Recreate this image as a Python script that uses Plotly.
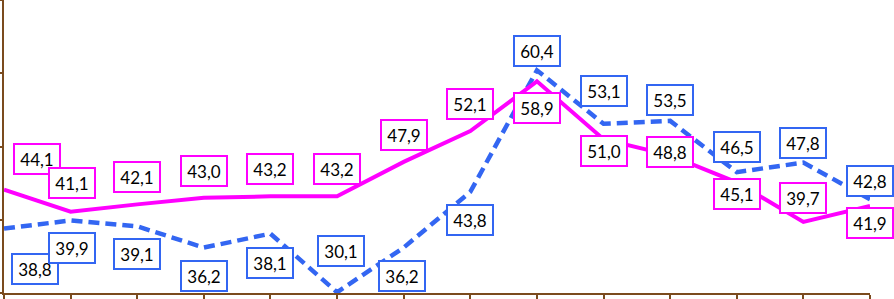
import plotly.graph_objects as go

categories = ["P01", "P02", "P03", "P04", "P05", "P06", "P07",
              "P08", "P09", "P10", "P11", "P12", "P13", "P14"]
series_magenta = [44.1, 41.1, 42.1, 43.0, 43.2, 43.2, 47.9, 52.1, 58.9, 51.0, 48.8, 45.1, 39.7, 41.9]
series_blue = [38.8, 39.9, 39.1, 36.2, 38.1, 30.1, 36.2, 43.8, 60.4, 53.1, 53.5, 46.5, 47.8, 42.8]

# label offsets (pixels) relative to the data point
off_magenta = [(33, -31), (1, -29), (0, -27), (0, -27), (0, -27), (0, -27), (0, -27),
               (0, -27), (0, 27), (0, 12), (0, -3), (0, 12), (0, -24), (0, 17)]
off_blue = [(31, 40), (1, 28), (0, 28), (0, 28), (0, 29), (4, -41), (-2, 28),
            (0, 28), (0, -19), (0, -33), (0, -21), (0, -25), (0, -20), (0, -18)]

MAGENTA = "#FF00FF"
BLUE = "#3366F2"
AXIS = "#7B4B1E"

fig = go.Figure()
fig.add_trace(go.Scatter(x=categories, y=series_blue, mode="lines",
                         line=dict(color=BLUE, width=4.5, dash="11px,6px"),
                         hoverinfo="skip", cliponaxis=False))
fig.add_trace(go.Scatter(x=categories, y=series_magenta, mode="lines",
                         line=dict(color=MAGENTA, width=4),
                         hoverinfo="skip", cliponaxis=False))

annotations = []
for vals, offs, col in ((series_blue, off_blue, BLUE), (series_magenta, off_magenta, MAGENTA)):
    for c, v, (dx, dy) in zip(categories, vals, offs):
        annotations.append(dict(
            x=c, y=v, xref="x", yref="y",
            text=f"{v:.1f}".replace(".", ","),
            showarrow=True, arrowcolor="rgba(0,0,0,0)", arrowwidth=0.1,
            ax=dx, ay=dy,
            font=dict(family="Lato", size=17, color="#000000"),
            bgcolor="#FFFFFF", bordercolor=col, borderwidth=2, borderpad=2,
            width=40, height=24,
        ))

fig.update_layout(
    width=894, height=299,
    margin=dict(l=4, r=24, t=0, b=6),
    paper_bgcolor="white", plot_bgcolor="white",
    showlegend=False,
    annotations=annotations,
    xaxis=dict(type="category", range=[0, 13], showgrid=False, zeroline=False,
               showline=True, linecolor=AXIS, linewidth=2,
               ticks="outside", ticklen=6, tickwidth=2, tickcolor=AXIS,
               showticklabels=False, fixedrange=True),
    yaxis=dict(range=[30, 70], showgrid=False, zeroline=False,
               showline=True, linecolor=AXIS, linewidth=2,
               tickvals=[30, 40, 50, 60, 70],
               ticks="outside", ticklen=5, tickwidth=2, tickcolor=AXIS,
               showticklabels=False, fixedrange=True),
)

fig.write_html("out.html", config={"displayModeBar": False, "staticPlot": True},
               post_script="document.body.style.margin='0';document.body.style.overflow='hidden';")
